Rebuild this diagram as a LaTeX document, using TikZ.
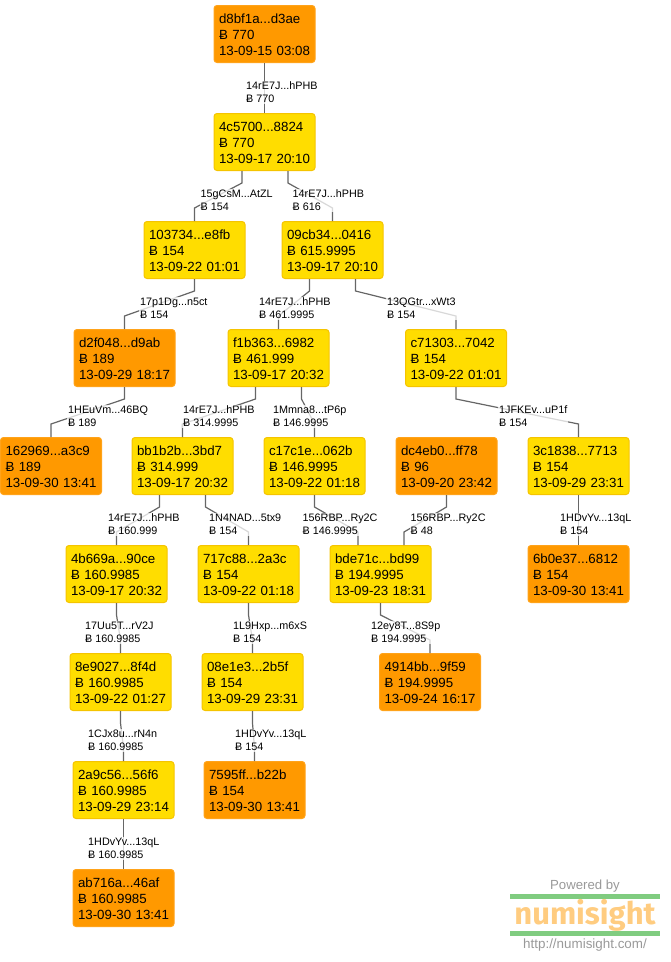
\documentclass[tikz,border=0pt]{standalone}
\usepackage{fontspec}
\setmainfont{Liberation Sans}
\newfontfamily\logofont{Fira Sans}
\usepackage{tikz}
\definecolor{txyellow}{HTML}{FFDD00}
\definecolor{txyellowedge}{HTML}{F5C400}
\definecolor{txorange}{HTML}{FF9900}
\definecolor{txorangeedge}{HTML}{FFA31A}
\definecolor{linkgray}{HTML}{666666}
\definecolor{logogreen}{HTML}{80CC80}
\definecolor{logoorange}{HTML}{FFCC80}
\definecolor{logogray}{HTML}{999999}

\begin{document}
\begin{tikzpicture}[
  x=1pt,
  y=-1pt,
  txbox/.style={rounded corners=3pt,line width=1pt,text width=91pt,inner xsep=5pt,inner ysep=0pt,
    minimum height=57pt,align=left,font=\fontsize{13.3}{16}\selectfont},
  spent/.style={txbox,fill=txyellow,draw=txyellowedge},
  unspent/.style={txbox,fill=txorange,draw=txorangeedge},
  link/.style={draw=linkgray,line width=1.2pt},
  lab/.style={anchor=west,fill=white,fill opacity=.75,text opacity=1,inner xsep=1pt,inner ysep=1pt,
    align=left,font=\fontsize{10.8}{13}\selectfont},
  bar/.style={fill=logogreen,draw=none}
]
\useasboundingbox (0,0) rectangle (670,962);
\foreach \name/\cx/\cy/\kind/\head/\tail/\amt/\stamp in {
  d8bf/264.5/34/unspent/d8bf1a/d3ae/770/13-09-15 03:08,
  4c57/264.5/142/spent/4c5700/8824/770/13-09-17 20:10,
  1037/194.5/250/spent/103734/e8fb/154/13-09-22 01:01,
  09cb/332.5/250/spent/09cb34/0416/615.9995/13-09-17 20:10,
  d2f0/124.5/358/unspent/d2f048/d9ab/189/13-09-29 18:17,
  f1b3/278.5/358/spent/f1b363/6982/461.999/13-09-17 20:32,
  c713/456/358/spent/c71303/7042/154/13-09-22 01:01,
  1629/51/466/unspent/162969/a3c9/189/13-09-30 13:41,
  bb1b/182.5/466/spent/bb1b2b/3bd7/314.999/13-09-17 20:32,
  c17c/314.5/466/spent/c17c1e/062b/146.9995/13-09-22 01:18,
  dc4e/446.5/466/unspent/dc4eb0/ff78/96/13-09-20 23:42,
  3c18/578.5/466/spent/3c1838/7713/154/13-09-29 23:31,
  4b66/116.5/574/spent/4b669a/90ce/160.9985/13-09-17 20:32,
  717c/248.5/574/spent/717c88/2a3c/154/13-09-22 01:18,
  bde7/380.5/574/spent/bde71c/bd99/194.9995/13-09-23 18:31,
  6b0e/578.5/574/unspent/6b0e37/6812/154/13-09-30 13:41,
  8e90/120.5/682/spent/8e9027/8f4d/160.9985/13-09-22 01:27,
  08e1/252.5/682/spent/08e1e3/2b5f/154/13-09-29 23:31,
  4914/430/682/unspent/4914bb/9f59/194.9995/13-09-24 16:17,
  2a9c/123.5/790/spent/2a9c56/56f6/160.9985/13-09-29 23:14,
  7595/254.5/790/unspent/7595ff/b22b/154/13-09-30 13:41,
  ab71/123.5/898/unspent/ab716a/46af/160.9985/13-09-30 13:41%
} {
  \node[\kind] (\name) at (\cx,\cy) {\rule{0pt}{12pt}\head...\tail\\Ƀ \amt\\\stamp};
}
\foreach \src/\sx/\dst/\dx in {
  d8bf/0/4c57/0, 4c57/-22.5/1037/0, 4c57/23.5/09cb/0,
  1037/0/d2f0/0, 09cb/-23/f1b3/0, 09cb/23/c713/0,
  d2f0/0/1629/0, f1b3/-23/bb1b/0, f1b3/23/c17c/0,
  c713/0/3c18/0, bb1b/-23/4b66/0, bb1b/23/717c/0,
  c17c/0/bde7/-22.5, dc4e/0/bde7/23.5, 3c18/0/6b0e/0,
  4b66/0/8e90/0, 717c/0/08e1/0, bde7/0/4914/0,
  8e90/0/2a9c/0, 08e1/0/7595/0, 2a9c/0/ab71/0%
} {
  \draw[link] ([xshift=\sx pt]\src.south) -- ++(0,12)
    -- ([xshift=\dx pt,yshift=13pt]\dst.north) -- ([xshift=\dx pt]\dst.north);
}
\foreach \name/\lx/\ly/\head/\tail/\amt in {
  a1/246/91.5/14rE7J/hPHB/770,
  a2/200.5/199.5/15gCsM/AtZL/154,
  a3/292.5/199.5/14rE7J/hPHB/616,
  a4/140/307.5/17p1Dg/n5ct/154,
  a5/259/307.5/14rE7J/hPHB/461.9995,
  a6/387/307.5/13QGtr/xWt3/154,
  a7/68/415.5/1HEuVm/46BQ/189,
  a8/183/415.5/14rE7J/hPHB/314.9995,
  a9/273/415.5/1Mmna8/tP6p/146.9995,
  a10/499/415.5/1JFKEv/uP1f/154,
  a11/108/523.5/14rE7J/hPHB/160.999,
  a12/209/523.5/1N4NAD/5tx9/154,
  a13/302.5/523.5/156RBP/Ry2C/146.9995,
  a14/410.5/523.5/156RBP/Ry2C/48,
  a15/560/523.5/1HDvYv/13qL/154,
  a16/85/631.5/17Uu5T/rV2J/160.9985,
  a17/233/631.5/1L9Hxp/m6xS/154,
  a18/371/631.5/12ey8T/8S9p/194.9995,
  a19/88/739.5/1CJx8u/rN4n/160.9985,
  a20/235/739.5/1HDvYv/13qL/154,
  a21/88/847.5/1HDvYv/13qL/160.9985%
} {
  \node[lab] (\name) at (\lx-1,\ly+1) {\head...\tail\\Ƀ \amt};
}
\path[bar] (510,894) rectangle (660,899);
\path[bar] (510,931) rectangle (660,936);
\node[text=logogray,font=\fontsize{13.2}{14}\selectfont] (powered) at (585,886.5) {Powered by};
\node[text=logoorange,font=\logofont\bfseries\fontsize{31}{31}\selectfont] (logo) at (585,915) {numisight};
\node[text=logogray,font=\fontsize{13.4}{14}\selectfont] (site) at (585,945) {http://numisight.com/};
\end{tikzpicture}
\end{document}
